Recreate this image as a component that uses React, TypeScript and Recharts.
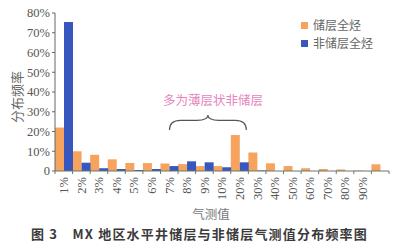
import React from "react";
import { BarChart, Bar, XAxis, YAxis, ReferenceArea } from "recharts";

const slotIds = ["s1", "s2", "s3", "s4", "s5", "s6", "s7", "s8", "s9", "s10", "s11", "s12", "s13", "s14", "s15", "s16", "s17", "s18", "s19"];
const tickLabels = ["1%", "2%", "3%", "4%", "5%", "6%", "7%", "8%", "9%", "10%", "20%", "30%", "40%", "50%", "60%", "70%", "80%", "90%"];
const reservoir = [22, 10, 8.2, 5.9, 4, 4, 3.8, 3.5, 2.5, 2.5, 18.2, 9.4, 3.9, 2.5, 1.4, 1, 0.8, 0.2, 3.4];
const nonReservoir = [75.5, 4.2, 1.4, 1, 0.5, 1, 2.5, 4.9, 4.4, 1.9, 4.4, 0.3, 0, 0, 0, 0, 0, 0, 0];
const yTicks = [0, 10, 20, 30, 40, 50, 60, 70, 80];
const seriesNames = ["储层全烃", "非储层全烃"];
const seriesColors = ["#f6a35e", "#3757be"];
const braceText = "多为薄层状非储层";
const braceFrom = "s7";
const braceTo = "s11";
const xTitle = "气测值";
const yTitle = "分布频率";
const caption = "图 3　MX 地区水平井储层与非储层气测值分布频率图";

const data = slotIds.map((id, i) => ({ slot: id, res: reservoir[i], non: nonReservoir[i] }));

const SERIF = "'Liberation Serif', 'DejaVu Serif', serif";
const CJK = "'Noto Sans CJK SC', sans-serif";
const AXIS = "#6b786b";

const RotTick = (props: any) => {
  const { x, y, index, payload, visibleTicksCount } = props;
  const label = tickLabels[index] ?? "";
  const half = payload?.offset ?? 0;
  const axisY = y - 6;
  const last = index === (visibleTicksCount ?? slotIds.length) - 1;
  return (
    <g>
      <line x1={x - half} x2={x - half} y1={axisY} y2={axisY + 3} stroke={AXIS} />
      {last && <line x1={x + half} x2={x + half} y1={axisY} y2={axisY + 3} stroke={AXIS} />}
      <text
        x={x}
        y={y}
        transform={`rotate(-90, ${x}, ${y})`}
        textAnchor="end"
        dy="0.35em"
        fontSize={12.5}
        fontFamily={SERIF}
        fill="#555"
      >
        {label}
      </text>
    </g>
  );
};

const Brace = (props: any) => {
  const { x, y, width, height } = props;
  const x0 = x + 9;
  const x1 = x + width - 2;
  const cx = (x0 + x1) / 2;
  const y0 = y;
  const y1 = y + height;
  const ym = y + height * 0.35;
  const q = 11;
  const d = `M ${x0} ${y1} Q ${x0} ${ym} ${x0 + q} ${ym} L ${cx - q} ${ym} Q ${cx} ${ym} ${cx} ${y0} Q ${cx} ${ym} ${cx + q} ${ym} L ${x1 - q} ${ym} Q ${x1} ${ym} ${x1} ${y1}`;
  return (
    <g>
      <path d={d} fill="none" stroke="#4d5a4d" strokeWidth={1.1} />
      <text x={cx + 5} y={y0 - 13} textAnchor="middle" dominantBaseline="middle" fontSize={12.5} fontFamily={CJK} fill="#e883be">
        {braceText}
      </text>
    </g>
  );
};

export default function App() {
  return (
    <div style={{ position: "absolute", left: 0, top: 0, width: 400, height: 251, background: "#fff" }}>
      <BarChart
        width={400}
        height={251}
        data={data}
        margin={{ top: 13, right: 11, left: 15, bottom: 40 }}
        barCategoryGap={0}
        barGap={0}
      >
        <XAxis
          dataKey="slot"
          type="category"
          interval={0}
          tick={<RotTick />}
          tickSize={6}
          tickMargin={0}
          tickLine={false}
          axisLine={{ stroke: AXIS }}
          height={40}
        />
        <YAxis
          domain={[0, 80]}
          ticks={yTicks}
          interval={0}
          width={40}
          tickSize={3}
          tickMargin={2}
          tickFormatter={(v: number) => (v === 0 ? "0" : `${v}%`)}
          tick={{ fontSize: 12.5, fill: "#555", fontFamily: SERIF }}
          axisLine={{ stroke: "#666" }}
          tickLine={{ stroke: "#666" }}
        />
        <Bar dataKey="res" name={seriesNames[0]} fill={seriesColors[0]} isAnimationActive={false} />
        <Bar dataKey="non" name={seriesNames[1]} fill={seriesColors[1]} isAnimationActive={false} />
        <ReferenceArea x1={braceFrom} x2={braceTo} y1={20.7} y2={28.3} shape={<Brace />} />
      </BarChart>
      <div style={{ position: "absolute", left: 301, top: 16, fontSize: 12, color: "#666", fontFamily: CJK }}>
        {seriesNames.map((n, i) => (
          <div key={n} style={{ display: "flex", alignItems: "center", height: 18, lineHeight: "18px" }}>
            <span style={{ display: "inline-block", width: 7, height: 7, background: seriesColors[i], marginRight: 5 }} />
            <span>{n}</span>
          </div>
        ))}
      </div>
      <div style={{ position: "absolute", left: 2, top: 93, transform: "translate(0, -50%) rotate(-90deg)", transformOrigin: "center", width: 28, textAlign: "center", whiteSpace: "nowrap", fontSize: 13, color: "#666", fontFamily: CJK }}>
        <span style={{ display: "inline-block", marginLeft: -16 }}>{yTitle}</span>
      </div>
      <div style={{ position: "absolute", left: 171, top: 204, width: 80, textAlign: "center", fontSize: 12.5, color: "#777", fontFamily: CJK }}>
        {xTitle}
      </div>
      <div style={{ position: "absolute", left: 31, top: 224, whiteSpace: "nowrap", fontSize: 13, fontWeight: 700, color: "#3a3a3a", letterSpacing: "1.2px", fontFamily: CJK }}>
        {caption}
      </div>
    </div>
  );
}
